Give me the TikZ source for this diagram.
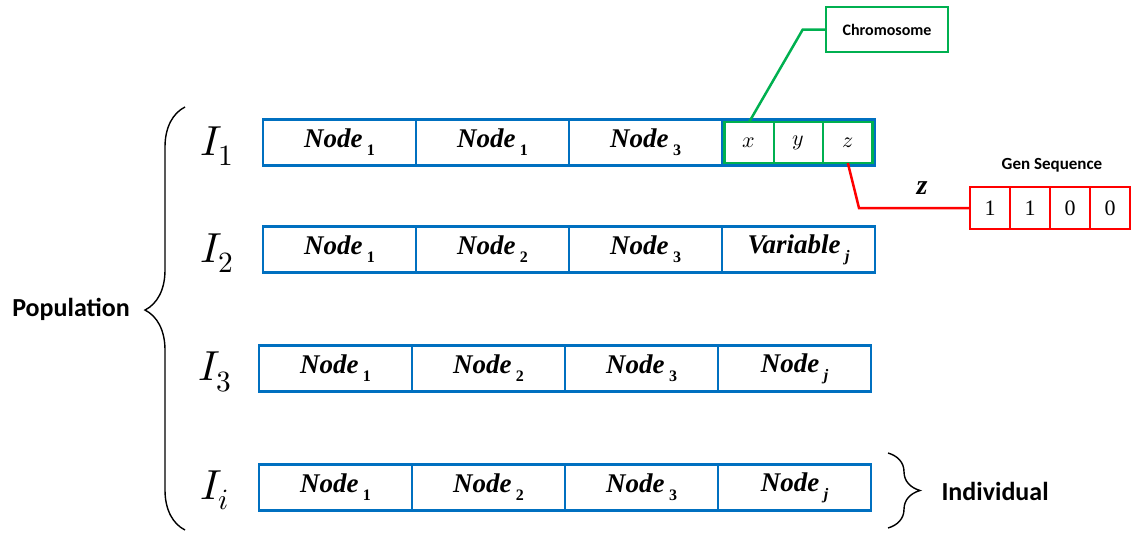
\documentclass[tikz,border=0pt]{standalone}
\usepackage{fontspec}
\usepackage{unicode-math}
\setsansfont{Carlito}
\newfontfamily\cellfont{Liberation Serif}
\definecolor{cellblue}{RGB}{0,112,192}
\definecolor{chromgreen}{RGB}{0,176,80}
\definecolor{genred}{RGB}{255,0,0}
\usetikzlibrary{positioning,calc,decorations.pathreplacing}

\newcommand{\nd}[2][Node]{\textbf{\textit{#1}}\,\raisebox{-0.3em}{\fontsize{16}{16}\selectfont\textbf{#2}}}

\begin{document}
\begin{tikzpicture}[x=1pt,y=-1pt,
    cell/.style={draw=cellblue, line width=2.5pt, outer sep=0pt, inner sep=0pt,
                 minimum width=153pt, minimum height=46pt, font=\cellfont\fontsize{27}{30}\selectfont},
    gcell/.style={draw=chromgreen, line width=2.5pt, outer sep=0pt, inner sep=0pt,
                  minimum width=49.33pt, minimum height=41pt, font=\fontsize{22}{24}\selectfont},
    bitcell/.style={draw=genred, line width=2.5pt, outer sep=0pt, inner sep=0pt,
                    minimum width=40pt, minimum height=42pt, font=\cellfont\fontsize{22}{24}\selectfont},
    ilab/.style={font=\fontsize{42}{46}\selectfont},
    tag/.style={font=\sffamily\bfseries\fontsize{#1}{#1}\selectfont},
    brace/.style={decorate, line width=1.4pt, decoration={brace, amplitude=#1}}]
  \useasboundingbox (0,0) rectangle (1131,533);

  \node[cell] (r1c1) at (339.5,142.5) {\nd{1}};
  \node[cell, right=0pt of r1c1] (r1c2) {\nd{1}};
  \node[cell, right=0pt of r1c2] (r1c3) {\nd{3}};
  \node[cell, right=0pt of r1c3] (r1c4) {};
  \node[gcell, anchor=west] (cx) at ($(r1c4.west)+(2.5,0)$) {$x$};
  \node[gcell, right=0pt of cx] (cy) {$y$};
  \node[gcell, right=0pt of cy] (cz) {$z$};

  \node[cell] (r2c1) at (339.5,249.5) {\nd{1}};
  \node[cell, right=0pt of r2c1] (r2c2) {\nd{2}};
  \node[cell, right=0pt of r2c2] (r2c3) {\nd{3}};
  \node[cell, right=0pt of r2c3] (r2c4) {\nd[Variable]{\textit{j}}};

  \node[cell] (r3c1) at (335.5,368.5) {\nd{1}};
  \node[cell, right=0pt of r3c1] (r3c2) {\nd{2}};
  \node[cell, right=0pt of r3c2] (r3c3) {\nd{3}};
  \node[cell, right=0pt of r3c3] (r3c4) {\nd{\textit{j}}};

  \node[cell] (r4c1) at (335.5,487.5) {\nd{1}};
  \node[cell, right=0pt of r4c1] (r4c2) {\nd{2}};
  \node[cell, right=0pt of r4c2] (r4c3) {\nd{3}};
  \node[cell, right=0pt of r4c3] (r4c4) {\nd{\textit{j}}};

  \node[ilab] (i1) at (217,146) {$I_1$};
  \node[ilab] (i2) at (217,253) {$I_2$};
  \node[ilab] (i3) at (215,372) {$I_3$};
  \node[ilab] (ii) at (215,490) {$I_i$};

  \node[tag=26] (pop) at (71,309) {Population};
  \draw[brace=40pt, decoration={aspect=0.52}] (185,530) -- (185,107);

  \node[tag=26, anchor=west] (indiv) at (938,491) {Individual};
  \draw[brace=32pt] (888,453) -- (888,528);

  \node[tag=16, draw=chromgreen, line width=2.5pt, minimum width=122pt, minimum height=45pt]
    (chrom) at (887,29.5) {Chromosome};
  \draw[chromgreen, line width=2.5pt] (cx.north) -- ($(chrom.west)+(-22,0)$) -- (chrom.west);

  \node[bitcell] (b1) at (990,208) {1};
  \node[bitcell, right=0pt of b1] (b2) {1};
  \node[bitcell, right=0pt of b2] (b3) {0};
  \node[bitcell, right=0pt of b3] (b4) {0};
  \node[tag=17] (gseq) at (1052,165) {Gen Sequence};
  \node[font=\cellfont\bfseries\itshape\fontsize{28}{28}\selectfont] (zlab) at (922,188) {z};
  \draw[genred, line width=2.5pt] (cz.south) -- ($(b1.west)+(-111,0)$) -- (b1.west);
\end{tikzpicture}
\end{document}
